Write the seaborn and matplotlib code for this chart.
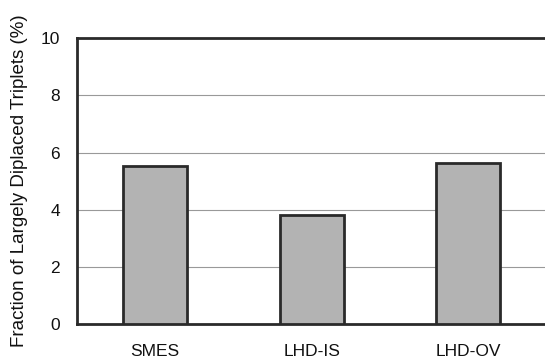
import numpy as np
import pandas as pd
import matplotlib.pyplot as plt
import seaborn as sns

# values
metodos = ["SMES", "LHD-IS", "LHD-OV"]
fracao = [5.52, 3.81, 5.63]

df = pd.DataFrame({"metodo": metodos, "fracao": fracao})

sns.set_style("white")
plt.rcParams['font.family'] = ['Liberation Sans', 'DejaVu Sans']
plt.rcParams['text.color'] = "#111111"
plt.rcParams['axes.labelcolor'] = "#111111"
plt.rcParams['xtick.color'] = "#111111"
plt.rcParams['ytick.color'] = "#111111"

fig = plt.figure(figsize=(5.45, 3.59), dpi=100)
ax = fig.add_axes([0.141, 0.097, 0.862, 0.797])

sns.barplot(data=df, x="metodo", y="fracao", color="#b3b3b3", width=0.41,
            edgecolor="#2a2a2a", linewidth=2, saturation=1, ax=ax, zorder=3)

ax.set_ylim(0, 10)
ax.set_xlim(-0.5, 2.5)
ax.set_yticks([0, 2, 4, 6, 8, 10])
for y in [2, 4, 6, 8]:
    ax.axhline(y, color="#999999", lw=0.8, zorder=1)

for lado in ["left", "bottom", "top"]:
    ax.spines[lado].set_color("#2a2a2a")
    ax.spines[lado].set_linewidth(2)
ax.spines["right"].set_visible(False)

ax.set_xticks([0.5, 1.5], minor=True)
ax.tick_params(axis="x", which="minor", direction="in", length=6, width=0.8, color="#777777")
ax.tick_params(axis="x", which="major", length=0, labelsize=12.5, pad=14)
ax.tick_params(axis="y", length=0, labelsize=12.5, pad=12)

ax.set_xlabel("")
ax.set_ylabel("Fraction of Largely Diplaced Triplets (%)", fontsize=13.5, labelpad=9)

fig.savefig("out.png", dpi=100)
